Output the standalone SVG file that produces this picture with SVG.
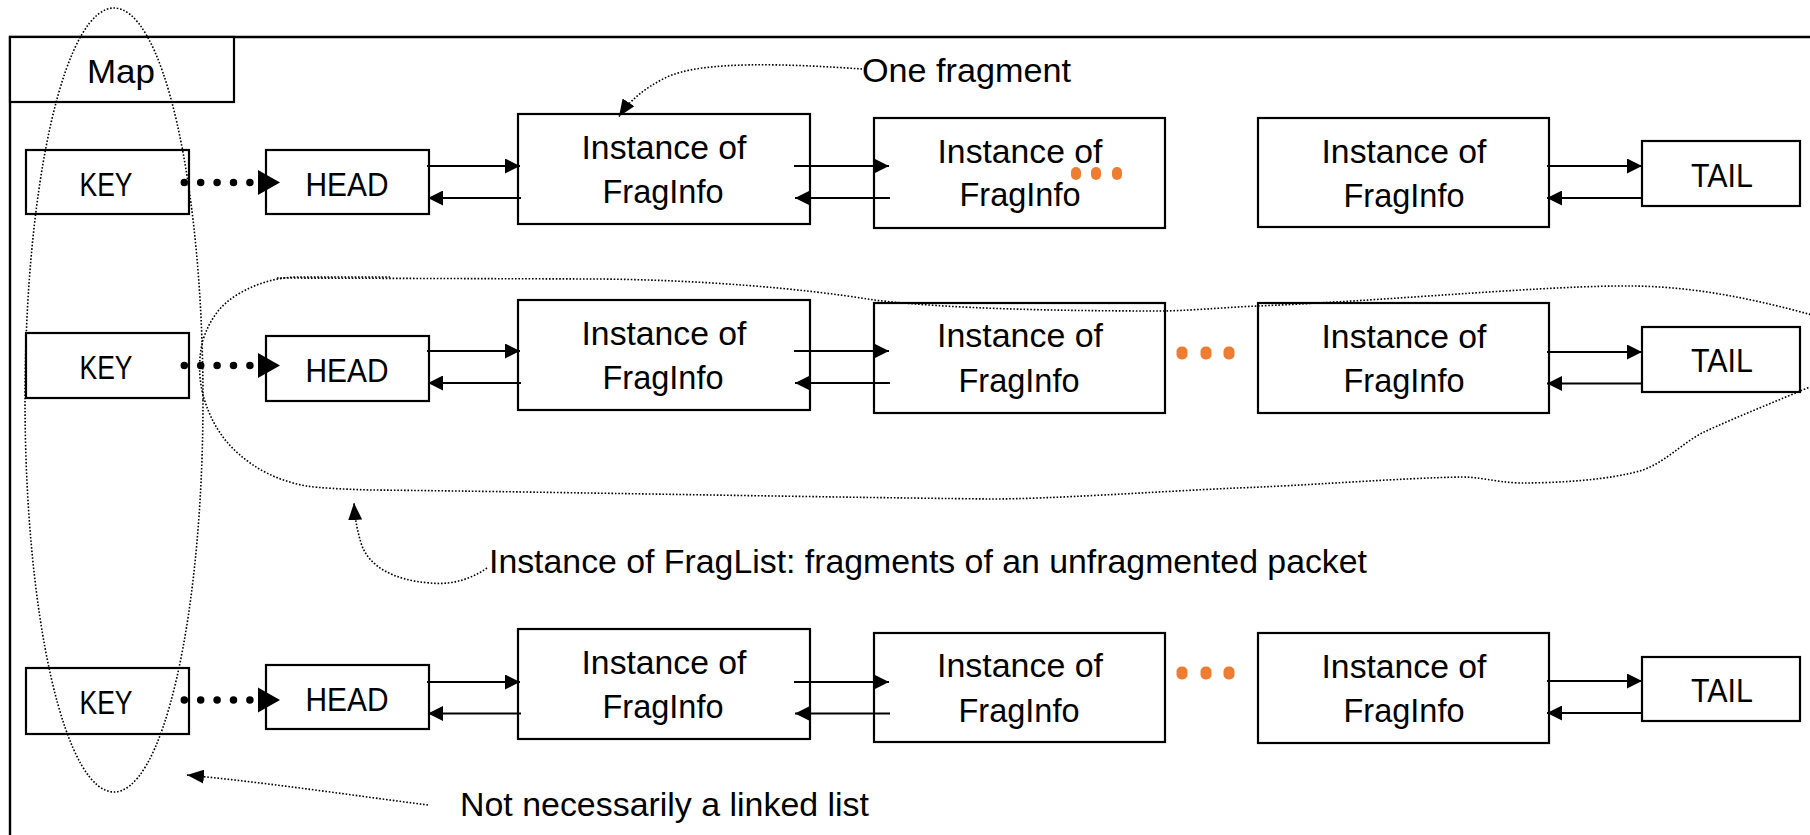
<svg xmlns="http://www.w3.org/2000/svg" width="1810" height="835" viewBox="0 0 1810 835">
  <defs>
    <style>
      .box { fill: #fff; stroke: #000; stroke-width: 2.2; }
      .frame { fill: none; stroke: #000; stroke-width: 2.4; }
      .lbl { font-family: "Liberation Sans", Arial, sans-serif; font-size: 33px; fill: #000; text-anchor: middle; }
      .note { font-family: "Liberation Sans", Arial, sans-serif; font-size: 33px; fill: #000; }
      .link { fill: none; stroke: #000; stroke-width: 2.2; marker-end: url(#tri); }
      .dots { fill: none; stroke: #000; stroke-width: 7.5; stroke-linecap: round; stroke-dasharray: 0 16.4; }
      .fine { fill: none; stroke: #000; stroke-width: 1.6; stroke-dasharray: 1.6 1.8; }
      .pointer { fill: none; stroke: #000; stroke-width: 1.6; stroke-dasharray: 1.6 1.8; marker-end: url(#tri2); }
      .more { fill: #ED7D31; }
    </style>
    <marker id="tri" viewBox="0 0 15 15" refX="15" refY="7.5" markerWidth="15" markerHeight="15" markerUnits="userSpaceOnUse" orient="auto">
      <path d="M0,0 L15,7.5 L0,15 z" fill="#000"/>
    </marker>
    <marker id="tri2" viewBox="0 0 17 14" refX="17" refY="7" markerWidth="17" markerHeight="14" markerUnits="userSpaceOnUse" orient="auto">
      <path d="M0,0 L17,7 L0,14 z" fill="#000"/>
    </marker>
  </defs>

  <rect width="1810" height="835" fill="#fff"/>

  <!-- outer map frame -->
  <path class="frame" d="M10,845 V37 H1820"/>
  <g id="map-label">
    <rect class="box" x="10" y="37" width="224" height="65"/>
    <text class="lbl" x="121" y="83" textLength="68" lengthAdjust="spacingAndGlyphs">Map</text>
  </g>

  <!-- row 1 -->
  <g id="key1"><rect class="box" x="26" y="150" width="163" height="64"/><text class="lbl" x="106" y="196" textLength="53" lengthAdjust="spacingAndGlyphs">KEY</text></g>
  <g id="head1"><rect class="box" x="266" y="150" width="163" height="64"/><text class="lbl" x="347" y="196" textLength="83" lengthAdjust="spacingAndGlyphs">HEAD</text></g>
  <g id="frag1a"><rect class="box" x="518" y="114" width="292" height="110"/><text class="lbl" x="664" y="158.5" textLength="165" lengthAdjust="spacingAndGlyphs">Instance of</text><text class="lbl" x="663" y="203" textLength="121" lengthAdjust="spacingAndGlyphs">FragInfo</text></g>
  <g id="frag1b"><rect class="box" x="874" y="118" width="291" height="110"/><text class="lbl" x="1020" y="162.5" textLength="165" lengthAdjust="spacingAndGlyphs">Instance of</text><text class="lbl" x="1020" y="206" textLength="121" lengthAdjust="spacingAndGlyphs">FragInfo</text></g>
  <g id="frag1c"><rect class="box" x="1258" y="118" width="291" height="109"/><text class="lbl" x="1404" y="162.5" textLength="165" lengthAdjust="spacingAndGlyphs">Instance of</text><text class="lbl" x="1404" y="206.5" textLength="121" lengthAdjust="spacingAndGlyphs">FragInfo</text></g>
  <g id="tail1"><rect class="box" x="1642" y="141" width="158" height="65"/><text class="lbl" x="1722" y="186.5" textLength="62" lengthAdjust="spacingAndGlyphs">TAIL</text></g>

  <!-- row 2 -->
  <g id="key2"><rect class="box" x="26" y="333" width="163" height="65"/><text class="lbl" x="106" y="379" textLength="53" lengthAdjust="spacingAndGlyphs">KEY</text></g>
  <g id="head2"><rect class="box" x="266" y="336" width="163" height="65"/><text class="lbl" x="347" y="382" textLength="83" lengthAdjust="spacingAndGlyphs">HEAD</text></g>
  <g id="frag2a"><rect class="box" x="518" y="300" width="292" height="110"/><text class="lbl" x="664" y="344.5" textLength="165" lengthAdjust="spacingAndGlyphs">Instance of</text><text class="lbl" x="663" y="389" textLength="121" lengthAdjust="spacingAndGlyphs">FragInfo</text></g>
  <g id="frag2b"><rect class="box" x="874" y="303" width="291" height="110"/><text class="lbl" x="1020" y="347" textLength="166" lengthAdjust="spacingAndGlyphs">Instance of</text><text class="lbl" x="1019" y="391.5" textLength="121" lengthAdjust="spacingAndGlyphs">FragInfo</text></g>
  <g id="frag2c"><rect class="box" x="1258" y="303" width="291" height="110"/><text class="lbl" x="1404" y="348" textLength="165" lengthAdjust="spacingAndGlyphs">Instance of</text><text class="lbl" x="1404" y="391.5" textLength="121" lengthAdjust="spacingAndGlyphs">FragInfo</text></g>
  <g id="tail2"><rect class="box" x="1642" y="327" width="158" height="65"/><text class="lbl" x="1722" y="372" textLength="62" lengthAdjust="spacingAndGlyphs">TAIL</text></g>

  <!-- row 3 -->
  <g id="key3"><rect class="box" x="26" y="668" width="163" height="66"/><text class="lbl" x="106" y="714" textLength="53" lengthAdjust="spacingAndGlyphs">KEY</text></g>
  <g id="head3"><rect class="box" x="266" y="665" width="163" height="64"/><text class="lbl" x="347" y="711" textLength="83" lengthAdjust="spacingAndGlyphs">HEAD</text></g>
  <g id="frag3a"><rect class="box" x="518" y="629" width="292" height="110"/><text class="lbl" x="664" y="673.5" textLength="165" lengthAdjust="spacingAndGlyphs">Instance of</text><text class="lbl" x="663" y="718" textLength="121" lengthAdjust="spacingAndGlyphs">FragInfo</text></g>
  <g id="frag3b"><rect class="box" x="874" y="633" width="291" height="109"/><text class="lbl" x="1020" y="677" textLength="166" lengthAdjust="spacingAndGlyphs">Instance of</text><text class="lbl" x="1019" y="721.5" textLength="121" lengthAdjust="spacingAndGlyphs">FragInfo</text></g>
  <g id="frag3c"><rect class="box" x="1258" y="633" width="291" height="110"/><text class="lbl" x="1404" y="677.5" textLength="165" lengthAdjust="spacingAndGlyphs">Instance of</text><text class="lbl" x="1404" y="721.5" textLength="121" lengthAdjust="spacingAndGlyphs">FragInfo</text></g>
  <g id="tail3"><rect class="box" x="1642" y="657" width="158" height="64"/><text class="lbl" x="1722" y="702" textLength="62" lengthAdjust="spacingAndGlyphs">TAIL</text></g>

  <!-- orange ellipsis marks -->
  <g id="ellipsis">
    <rect class="more" x="1071" y="167" width="10" height="13" rx="5"/>
    <rect class="more" x="1091" y="167" width="10" height="13" rx="5"/>
    <rect class="more" x="1112" y="167" width="10" height="13" rx="5"/>
    <rect class="more" x="1176.5" y="346.5" width="11" height="13" rx="5"/>
    <rect class="more" x="1200.5" y="346.5" width="11" height="13" rx="5"/>
    <rect class="more" x="1223.5" y="346.5" width="11" height="13" rx="5"/>
    <rect class="more" x="1176.5" y="666.5" width="11" height="13" rx="5"/>
    <rect class="more" x="1200.5" y="666.5" width="11" height="13" rx="5"/>
    <rect class="more" x="1223.5" y="666.5" width="11" height="13" rx="5"/>
  </g>

  <!-- links -->
  <g id="connectors">
    <!-- key to head (dotted) -->
    <path class="dots" d="M184.3,182.5 H250.5"/>
    <polygon points="258,170 280,182.5 258,195" fill="#000"/>
    <path class="dots" d="M184.3,365.5 H250.5"/>
    <polygon points="258,353 280,365.5 258,378" fill="#000"/>
    <path class="dots" d="M184.3,700 H250.5"/>
    <polygon points="258,687.5 280,700 258,712.5" fill="#000"/>

    <!-- row 1 -->
    <line class="link" x1="427" y1="166" x2="520" y2="166"/>
    <line class="link" x1="521" y1="198" x2="428" y2="198"/>
    <line class="link" x1="794" y1="166" x2="889" y2="166"/>
    <line class="link" x1="890" y1="198" x2="795" y2="198"/>
    <line class="link" x1="1547" y1="166" x2="1642" y2="166"/>
    <line class="link" x1="1642" y1="198" x2="1547" y2="198"/>

    <!-- row 2 -->
    <line class="link" x1="427" y1="351" x2="520" y2="351"/>
    <line class="link" x1="521" y1="383" x2="428" y2="383"/>
    <line class="link" x1="794" y1="351" x2="889" y2="351"/>
    <line class="link" x1="890" y1="383" x2="795" y2="383"/>
    <line class="link" x1="1547" y1="352" x2="1642" y2="352"/>
    <line class="link" x1="1642" y1="383.5" x2="1547" y2="383.5"/>

    <!-- row 3 -->
    <line class="link" x1="427" y1="682" x2="520" y2="682"/>
    <line class="link" x1="521" y1="713.5" x2="428" y2="713.5"/>
    <line class="link" x1="794" y1="682" x2="889" y2="682"/>
    <line class="link" x1="890" y1="713.5" x2="795" y2="713.5"/>
    <line class="link" x1="1547" y1="681" x2="1642" y2="681"/>
    <line class="link" x1="1642" y1="713" x2="1547" y2="713"/>

    <!-- annotation pointers -->
    <path class="pointer" d="M862,69 C790,64 700,60 665,78 C645,88 630,100 619,116.5"/>
    <path class="pointer" d="M487,568 C470,580 450,585 430,583 C392,580 370,566 362,546 C357,531 355,518 354,503"/>
    <path class="pointer" d="M428,805 C350,795 270,783 187,775"/>
  </g>

  <!-- grouping outlines -->
  <g id="map-keys-outline">
    <ellipse class="fine" cx="114" cy="400" rx="89" ry="392"/>
  </g>
  <g id="fraglist-outline">
    <path class="fine" d="M277,278 L600,279 C700,280 800,288 874,300 C950,309 1060,311 1165,311 C1200,310 1230,307 1258,306 C1400,300 1550,285 1634,286 C1700,287 1760,300 1830,320"/>
    <path class="fine" d="M1830,378 C1800,392 1740,415 1702,433 C1680,445 1665,462 1643,470 C1610,480 1560,483 1519,483 C1495,482 1480,477 1462,477 C1400,478 1300,486 1236,488 C1150,492 1050,499 991,499 C800,497 500,491 370,490 C340,489 320,488 306,486 C275,480 255,468 240,455 C222,440 210,420 203,395 C198,375 199,355 203,340 C210,318 222,303 240,293 C258,283 275,278 295,277 L390,277"/>
  </g>

  <!-- notes -->
  <g id="notes">
    <text class="note" x="862" y="82" textLength="209" lengthAdjust="spacingAndGlyphs">One fragment</text>
    <text class="note" x="489" y="573" textLength="878" lengthAdjust="spacingAndGlyphs">Instance of FragList: fragments of an unfragmented packet</text>
    <text class="note" x="460" y="816" textLength="409" lengthAdjust="spacingAndGlyphs">Not necessarily a linked list</text>
  </g>
</svg>
